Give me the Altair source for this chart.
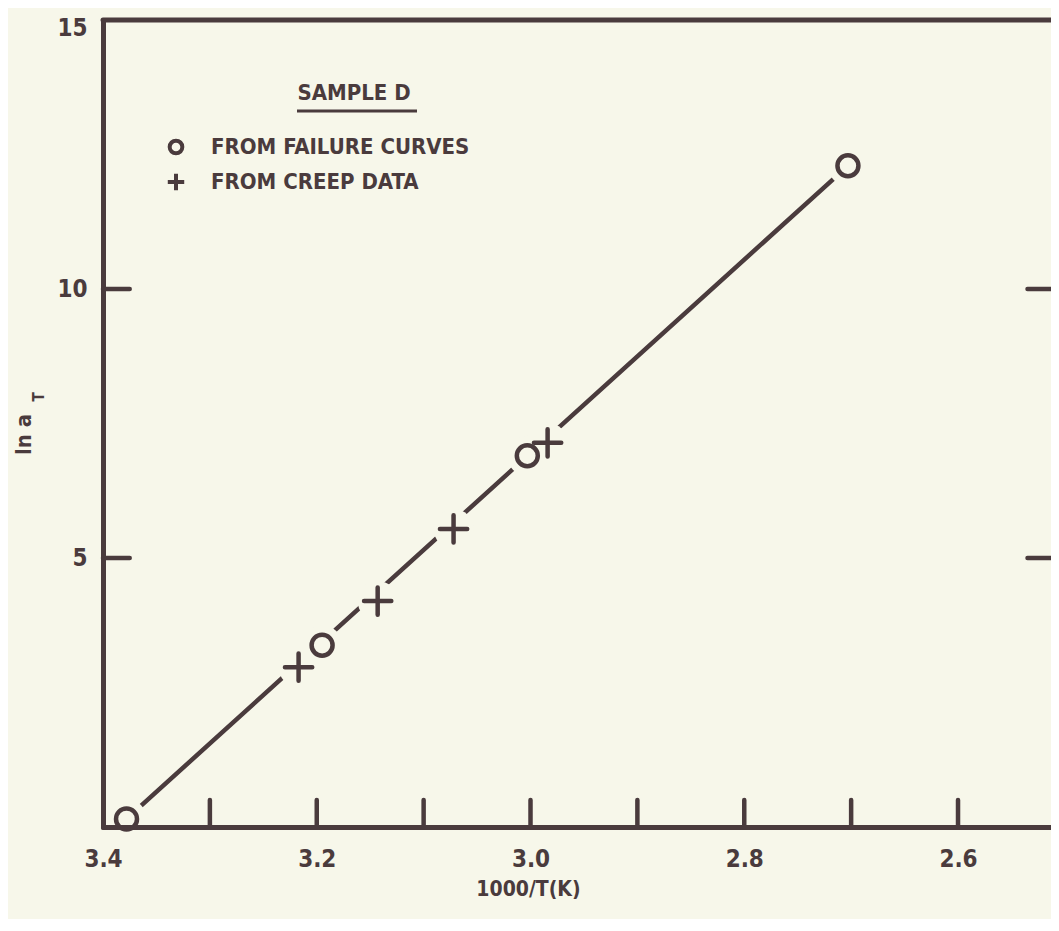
import altair as alt
import pandas as pd

# ---- data ----
fail_x = [3.378, 3.195, 3.003, 2.703]
fail_y = [0.15, 3.38, 6.90, 12.29]
creep_x = [3.217, 3.143, 3.072, 2.984]
creep_y = [2.97, 4.20, 5.54, 7.14]
fit_x = [3.378, 2.703]
fit_y = [0.15, 12.29]
series_names = ["FROM FAILURE CURVES", "FROM CREEP DATA"]
legend_title = "SAMPLE D"
x_label_vals = [3.4, 3.2, 3.0, 2.8, 2.6]
x_tick_vals = [3.3, 3.2, 3.1, 3.0, 2.9, 2.8, 2.7, 2.6]
y_label_vals = [5, 10, 15]
y_tick_vals = [5, 10]
x_lo, x_hi = 2.513, 3.4
y_lo, y_hi = 0, 15

INK = "#4a3b3d"
BG = "#f7f7ea"
FONT = "DejaVu Sans Condensed"

pts = pd.DataFrame({
    "x": fail_x + creep_x,
    "y": fail_y + creep_y,
    "series": [series_names[0]] * len(fail_x) + [series_names[1]] * len(creep_x),
})
fit = pd.DataFrame({"x": fit_x, "y": fit_y})
xt = pd.DataFrame({"x": x_tick_vals})
yt = pd.DataFrame({"y": y_tick_vals})

xs = alt.Scale(domain=[x_lo, x_hi], reverse=True, nice=False, zero=False)
ys = alt.Scale(domain=[y_lo, y_hi], nice=False, zero=False)

xaxis = alt.Axis(values=x_label_vals, format=".1f", ticks=False, grid=False,
                 labelFlush=False, labelPadding=20, labelFontSize=24,
                 labelFont=FONT, labelFontWeight="bold", labelColor=INK,
                 domainColor=INK, domainWidth=5, domainCap="round", zindex=1,
                 title="1000/T(K)", titleFont=FONT, titleFontSize=21,
                 titleFontWeight="bold", titleColor=INK, titleX=425, titleY=51,
                 titleBaseline="top", titleAlign="center")
yaxis = alt.Axis(values=y_label_vals, ticks=False, grid=False, labelPadding=16,
                 labelFlush=True, labelFlushOffset=4, labelFontSize=24,
                 labelFont=FONT, labelFontWeight="bold", labelColor=INK,
                 domainColor=INK, domainWidth=5, domainCap="round", zindex=1,
                 title="ln a", titleFont=FONT, titleFontSize=22,
                 titleFontWeight="bold", titleColor=INK, titleX=-73, titleY=414,
                 titleAlign="center", titleBaseline="alphabetic", titleAngle=270)

line = alt.Chart(fit).mark_line(color=INK, strokeWidth=4.5, strokeCap="round").encode(
    x=alt.X("x:Q", scale=xs, axis=xaxis),
    y=alt.Y("y:Q", scale=ys, axis=yaxis),
)

halo = alt.Chart(pts).mark_point(filled=True, color=BG, opacity=1, size=1600,
                                 shape="circle").encode(x="x:Q", y="y:Q")

markers = alt.Chart(pts).mark_point(filled=False, color=INK, opacity=1, size=440,
                                    strokeWidth=4.5, strokeCap="round").encode(
    x="x:Q", y="y:Q",
    shape=alt.Shape("series:N",
                    scale=alt.Scale(domain=series_names,
                                    range=["circle", "M-1.3,0H1.3M0,-1.3V1.3"]),
                    legend=alt.Legend(orient="none", legendX=62, legendY=110,
                                      title=None, padding=0, labelFont=FONT,
                                      labelFontSize=22, labelFontWeight="bold",
                                      labelColor=INK, labelLimit=0, symbolSize=160,
                                      symbolStrokeWidth=4, symbolStrokeColor=INK,
                                      symbolFillColor=BG, clipHeight=34,
                                      rowPadding=1, labelOffset=24)),
)

xticks = alt.Chart(xt).mark_rule(color=INK, strokeWidth=4.5, strokeCap="round").encode(
    x="x:Q", y=alt.datum(0), y2=alt.datum(0.5))
lticks = alt.Chart(yt).mark_rule(color=INK, strokeWidth=4.5, strokeCap="round").encode(
    y="y:Q", x=alt.datum(3.4), x2=alt.datum(3.375))
rticks = alt.Chart(yt).mark_rule(color=INK, strokeWidth=4.5, strokeCap="round").encode(
    y="y:Q", x=alt.datum(2.535), x2=alt.datum(x_lo))
top = alt.Chart(pd.DataFrame({"a": [0]})).mark_rule(color=INK, strokeWidth=5,
                                                     strokeCap="round").encode(
    y=alt.datum(y_hi), x=alt.datum(x_hi), x2=alt.datum(x_lo))

ltitle = alt.Chart(pd.DataFrame({"t": [legend_title]})).mark_text(
    font=FONT, fontSize=22, fontWeight="bold", color=INK,
    align="center", baseline="alphabetic").encode(
    x=alt.value(251), y=alt.value(80), text="t:N")
underline = alt.Chart(pd.DataFrame({"a": [0]})).mark_rule(color=INK, strokeWidth=3).encode(
    x=alt.value(194), x2=alt.value(314), y=alt.value(91))
subT = alt.Chart(pd.DataFrame({"t": ["T"]})).mark_text(
    angle=270, font=FONT, fontSize=15, fontWeight="bold", color=INK,
    align="center", baseline="middle").encode(
    x=alt.value(-64), y=alt.value(377), text="t:N")

chart = alt.layer(top, line, halo, markers, xticks, lticks, rticks, ltitle,
                  underline, subT).properties(
    width=948, height=807,
    padding={"left": 95, "top": 12, "right": 0, "bottom": 92},
    autosize=alt.AutoSizeParams(type="none"),
    background=BG,
).configure_view(stroke=None)

chart.save("out.html", embed_options={"renderer": "svg", "actions": False})
